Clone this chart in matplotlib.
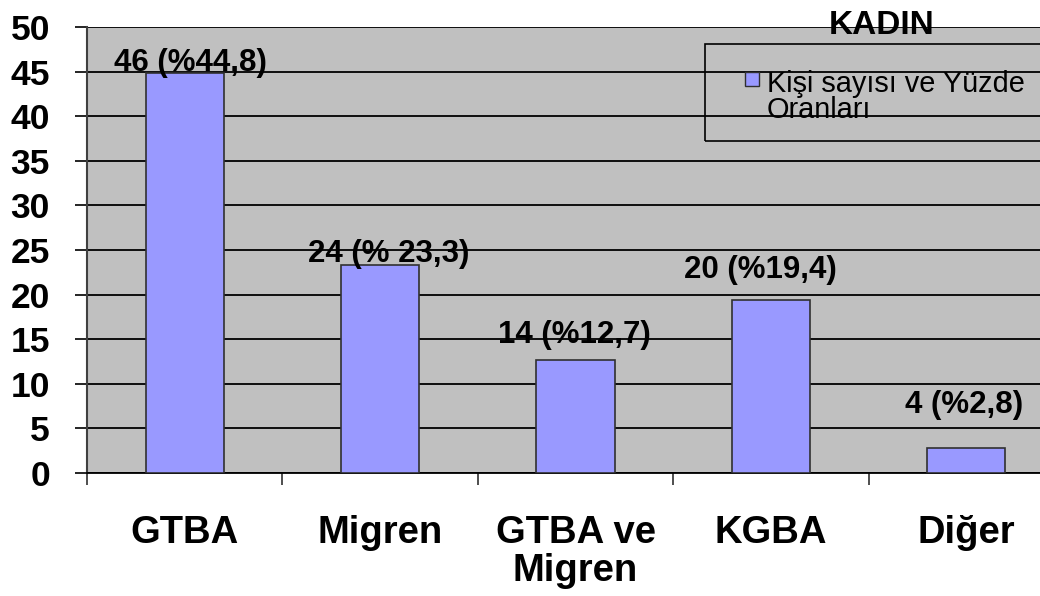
import matplotlib
matplotlib.use("Agg")
import matplotlib.pyplot as plt
from matplotlib.patches import Rectangle

plt.rcParams['font.family'] = ['Liberation Sans', 'DejaVu Sans']

categories = ["GTBA", "Migren", "GTBA ve\nMigren", "KGBA", "Diğer"]
counts = [46, 24, 14, 20, 4]
pct_labels = ["%44,8", "% 23,3", "%12,7", "%19,4", "%2,8"]
pct = [float(s.strip("% ").replace(",", ".")) for s in pct_labels]
legend_label = "Kişi sayısı ve Yüzde\nOranları"
title = "KADIN"

# hand placed label offsets (points)
label_offsets = [(4.3, 1.4), (6.5, 2.2), (-0.7, 12.2), (-7.9, 15.8), (-1.4, 25.2)]

bar_color = "#9999FF"
fig = plt.figure(figsize=(10.4, 5.96), dpi=100)
ax = fig.add_axes([87 / 1040, 123 / 596, 977 / 1040, 446 / 596])
ax.set_facecolor("#C0C0C0")

x = list(range(len(categories)))
ax.set_axisbelow(True)
ax.yaxis.grid(True, color="black", linewidth=1.3)
bars = ax.bar(x, pct, width=0.4, color=bar_color, edgecolor="#303030", linewidth=1.2, zorder=3)

for xi, n, p, lab, (dx, dy) in zip(x, counts, pct, pct_labels, label_offsets):
    ax.annotate(f"{n} ({lab})", (xi, p), xytext=(dx, dy), textcoords="offset points",
                ha="center", va="baseline", fontsize=22.5, fontweight="bold", zorder=4)

ax.set_xlim(-0.5, len(categories) - 0.5)
ax.set_ylim(0, 50)
ax.set_yticks(range(0, 51, 5))
ax.tick_params(axis="y", length=8.6, width=1.2, pad=18, labelsize=25.5)
for t in ax.get_yticklabels():
    t.set_fontweight("bold")

ax.set_xticks([i - 0.5 for i in range(len(categories) + 1)])
ax.set_xticklabels([])
ax.tick_params(axis="x", which="major", length=8.6, width=1.2, color="#303030")
ax.set_xticks(x, minor=True)
ax.set_xticklabels(categories, minor=True, fontsize=27.5, fontweight="bold", linespacing=1.1)
ax.tick_params(axis="x", which="minor", length=0, pad=30)
for t in ax.get_xticklabels(minor=True):
    t.set_va("top")

for side in ("top", "right"):
    ax.spines[side].set_visible(False)
ax.spines["left"].set_color("#404040")
ax.spines["left"].set_linewidth(1.5)
ax.spines["bottom"].set_color("black")
ax.spines["bottom"].set_linewidth(1.3)

# legend box, running off the right edge
fig.patches.append(Rectangle((705 / 1040, 1 - 141 / 596), 400 / 1040, 97 / 596,
                             transform=fig.transFigure, fill=False, edgecolor="black",
                             linewidth=1.2, zorder=5))
fig.patches.append(Rectangle((745 / 1040, 1 - 86 / 596), 14 / 1040, 14 / 596,
                             transform=fig.transFigure, facecolor=bar_color,
                             edgecolor="#303030", linewidth=1.0, zorder=5))
fig.text(767 / 1040, 1 - 118 / 596, legend_label, fontsize=20.8, ha="left", va="baseline",
         linespacing=0.92, zorder=6)
fig.text(882 / 1040, 1 - 26 / 596, title, fontsize=24, fontweight="bold",
         ha="center", va="center", zorder=6)

fig.savefig("out.png", dpi=100, facecolor="white")
